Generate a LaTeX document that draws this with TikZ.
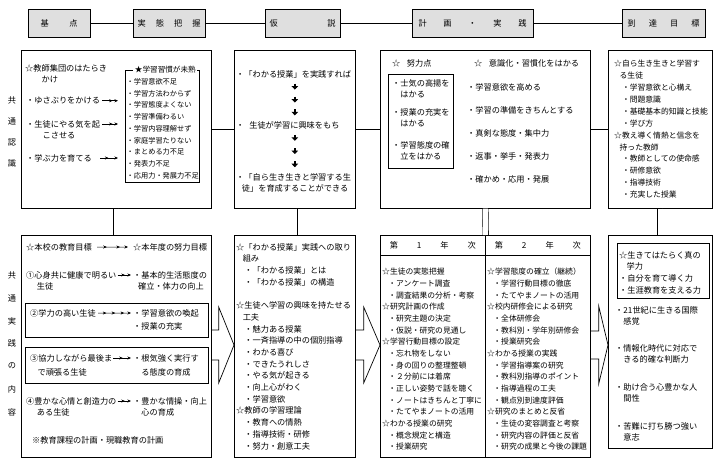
\documentclass[tikz,border=0pt]{standalone}
\usepackage{fontspec}
\setmainfont{Noto Sans CJK JP}
\usetikzlibrary{arrows.meta,calc,decorations.markings,positioning}

\begin{document}
\begin{tikzpicture}[
    x=1pt, y=-1pt,
    font=\fontsize{8.2}{11.7}\selectfont,
    head/.style={draw, line width=0.8pt, fill=gray!25, minimum height=28pt, inner sep=0pt},
    frame/.style={draw, line width=0.7pt, inner sep=0pt, anchor=north west},
    txt/.style={align=left, anchor=north west, inner sep=0pt},
    tag/.style={inner sep=0pt},
    link/.style={line width=0.7pt},
    pipe/.style={double, double distance=5pt, line width=0.6pt},
    outline/.style={line width=0.7pt, line join=miter},
    tip/.style={-{Stealth[length=3.5pt,width=3pt]}},
    dart/.style={line width=2pt, -{Triangle[length=3.5pt,width=6.5pt]}},
    arr2/.style={line width=0.5pt, tip, shorten <=2pt, shorten >=2pt, postaction={decorate},
        decoration={markings, mark=at position 0.5 with {\arrow{Stealth[length=3.5pt,width=3pt]}}}},
    arr3/.style={line width=0.5pt, tip, shorten <=2pt, shorten >=2pt, postaction={decorate},
        decoration={markings, mark=at position 0.36 with {\arrow{Stealth[length=3.5pt,width=3pt]}},
        mark=at position 0.68 with {\arrow{Stealth[length=3.5pt,width=3pt]}}}},
    arr4/.style={line width=0.5pt, tip, shorten <=2pt, shorten >=2pt, postaction={decorate},
        decoration={markings, mark=at position 0.28 with {\arrow{Stealth[length=3.5pt,width=3pt]}},
        mark=at position 0.52 with {\arrow{Stealth[length=3.5pt,width=3pt]}},
        mark=at position 0.76 with {\arrow{Stealth[length=3.5pt,width=3pt]}}}},
    downs/.style={postaction={decorate}, decoration={markings,
        mark=at position 0.2 with {\draw[dart] (-3pt,0) -- (3pt,0);},
        mark=at position 0.5 with {\draw[dart] (-3pt,0) -- (3pt,0);},
        mark=at position 0.8 with {\draw[dart] (-3pt,0) -- (3pt,0);}}},
]
\useasboundingbox (0,0) rectangle (717,466);

% Header row
\node[head, minimum width=62pt] (hBase) at (59,23) {\makebox[37pt]{基\hfill 点}};
\node[head, minimum width=72pt] (hFact) at (169,23) {\makebox[63pt]{実\hfill 態\hfill 把\hfill 握}};
\node[head, minimum width=75pt] (hHyp) at (302.5,23) {\makebox[66pt]{仮\hfill 説}};
\node[head, minimum width=121pt] (hPlan) at (472.5,23) {\makebox[108pt]{計\hfill 画\hfill ・\hfill 実\hfill 践}};
\node[head, minimum width=83pt] (hGoal) at (663.5,23) {\makebox[72pt]{到\hfill 達\hfill 目\hfill 標}};
\draw[link] (hBase) -- (hFact);
\draw[link] (hFact) -- (hHyp);
\draw[link] (hHyp) -- (hPlan);
\draw[link] (hPlan) -- (hGoal);

% Common understanding
\node[frame, minimum width=190pt, minimum height=158pt] (cogFrame) at (21,50) {};
\node[tag] (cog1) at (12,100) {共};
\node[tag] (cog2) at (12,121) {通};
\node[tag] (cog3) at (12,142) {認};
\node[tag] (cog4) at (12,163) {識};
\node[txt] (teach) at (25,64) {☆教師集団のはたらき\\\hspace*{2em}かけ};
\node[txt] (yusa) at (26,97) {・ゆさぶりをかける};
\node[txt] (yaruki) at (26,120) {・生徒にやる気を起\\\hspace*{2em}こさせる};
\node[txt] (manabu) at (26,154) {・学ぶ力を育てる};
\node[frame, minimum width=74pt, minimum height=112pt] (habit) at (125,70) {};
\node[fill=white, inner sep=1.5pt, font=\fontsize{7.6}{9}\selectfont] (habitTitle) at ([xshift=3pt]habit.north) {★学習習慣が未熟};
\node[txt, font=\fontsize{7.2}{11.75}\selectfont] (habitList) at (126.5,78) {・学習意欲不足\\・学習方法わからず\\・学習態度よくない\\・学習準備わるい\\・学習内容理解せず\\・家庭学習たりない\\・まとめる力不足\\・発表力不足\\・応用力・発展力不足};
\draw[arr2, shorten >=7pt] (yusa.east) -- (yusa.east -| habit.west);
\draw[arr2, shorten >=7pt] ($(yaruki.north east)+(0,4)$) -- ($(yaruki.north east -| habit.west)+(0,4)$);
\draw[arr2, shorten <=8pt, shorten >=7pt] (manabu.east) -- (manabu.east -| habit.west);

% Hypothesis
\node[frame, minimum width=121pt, minimum height=158pt] (hypFrame) at (234,50) {};
\node[txt] (hypA) at (236,70) {・「わかる授業」を実践すれば};
\node[txt] (hypB) at (236,121) {・\hspace*{0.6em}生徒が学習に興味をもち};
\node[txt] (hypC) at (236,173) {・「自ら生き生きと学習する生\\\hspace*{0.7em}徒」を育成することができる};
\path[downs] (hypA.south -| hypFrame.center) -- (hypB.north -| hypFrame.center);
\path[downs] (hypB.south -| hypFrame.center) -- (hypC.north -| hypFrame.center);

% Plan and practice
\node[frame, minimum width=210pt, minimum height=158pt] (planFrame) at (380,50) {};
\node[txt] (effortHead) at (392,59) {☆\hspace*{0.8em}努力点};
\node[txt] (habitHead) at (474,59) {☆\hspace*{0.8em}意識化・習慣化をはかる};
\node[frame, minimum width=65pt, minimum height=94pt] (effort) at (388,74) {};
\node[txt] (effort1) at (392,79) {・士気の高揚を\\\hspace*{1em}はかる};
\node[txt] (effort2) at (392,108) {・授業の充実を\\\hspace*{1em}はかる};
\node[txt] (effort3) at (392,141) {・学習態度の確\\\hspace*{1em}立をはかる};
\node[txt, font=\fontsize{8.2}{23}\selectfont] (habitList2) at (467,83) {・学習意欲を高める\\・学習の準備をきちんとする\\・真剣な態度・集中力\\・返事・挙手・発表力\\・確かめ・応用・発展};

% Goal
\node[frame, minimum width=104pt, minimum height=158pt] (goalFrame) at (608,50) {};
\node[txt, font=\fontsize{7.8}{11.9}\selectfont] (goalList) at (614,60) {☆自ら生き生きと学習す\\\hspace*{0.7em}る生徒\\\hspace*{1em}・学習意欲と心構え\\\hspace*{1em}・問題意識\\\hspace*{1em}・基礎基本的知識と技能\\\hspace*{1em}・学び方\\☆教え導く情熱と信念を\\\hspace*{0.7em}持った教師\\\hspace*{1em}・教師としての使命感\\\hspace*{1em}・研修意欲\\\hspace*{1em}・指導技術\\\hspace*{1em}・充実した授業};

\draw[link] (cogFrame) -- (hypFrame);
\draw[link] (hypFrame) -- (planFrame);
\draw[link] (planFrame) -- (goalFrame);

% Common practice
\node[frame, minimum width=190pt, minimum height=222pt] (pracFrame) at (21,235) {};
\node[tag] (prac1) at (12,275) {共};
\node[tag] (prac2) at (12,298) {通};
\node[tag] (prac3) at (12,321) {実};
\node[tag] (prac4) at (12,343) {践};
\node[tag] (prac5) at (12,366) {の};
\node[tag] (prac6) at (12,389) {内};
\node[tag] (prac7) at (12,412) {容};
\node[txt] (schoolGoal) at (26,243) {☆本校の教育目標};
\node[txt] (yearGoal) at (133,243) {☆本年度の努力目標};
\draw[arr3, shorten <=5pt, shorten >=5pt] (schoolGoal) -- (yearGoal);
\node[txt] (g1L) at (26,271) {①心身共に健康で明るい\\\hspace*{1.3em}生徒};
\node[txt] (g1R) at (133,271) {・基本的生活態度の\\\hspace*{0.6em}確立・体力の向上};
\draw[arr2, shorten <=1pt] ($(g1L.north east)+(0,4)$) -- ($(g1R.north west)+(0,4)$);
\node[frame, minimum width=183pt, minimum height=34pt] (box2) at (25,303) {};
\node[txt] (g2L) at (30,309) {②学力の高い生徒};
\node[txt] (g2R) at (133,309) {・学習意欲の喚起\\[2pt]・授業の充実};
\draw[arr4] (g2L.east) -- ($(g2R.north west)+(0,4)$);
\node[frame, minimum width=183pt, minimum height=36pt] (box3) at (25,347) {};
\node[txt] (g3L) at (30,354) {③協力しながら最後ま\\[3pt]\hspace*{0.9em}で頑張る生徒};
\node[txt] (g3R) at (133,354) {・根気強く実行す\\[3pt]\hspace*{1em}る態度の育成};
\draw[arr2, shorten <=1pt] ($(g3L.north east)+(0,4)$) -- ($(g3R.north west)+(0,4)$);
\node[txt] (g4L) at (26,397) {④豊かな心情と創造力の\\\hspace*{1.3em}ある生徒};
\node[txt] (g4R) at (133,397) {・豊かな情操・向上\\\hspace*{1em}心の育成};
\draw[arr2, shorten <=1pt] ($(g4L.north east)+(0,4)$) -- ($(g4R.north west)+(0,4)$);
\node[txt] (plan) at (32,436) {※教育課程の計画・現職教育の計画};

% Understood lessons
\node[frame, minimum width=121pt, minimum height=222pt] (hypPrac) at (234,235) {};
\node[txt] (wakaru) at (236,243) {☆「わかる授業」実践への取り\\\hspace*{0.8em}組み\\\hspace*{1em}・「わかる授業」とは\\\hspace*{1em}・「わかる授業」の構造\\[11.7pt]☆生徒へ学習の興味を持たせる\\\hspace*{0.8em}工夫\\\hspace*{1em}・魅力ある授業\\\hspace*{1em}・一斉指導の中の個別指導\\\hspace*{1em}・わかる喜び\\\hspace*{1em}・できたうれしさ\\\hspace*{1em}・やる気が起きる\\\hspace*{1em}・向上心がわく\\\hspace*{1em}・学習意欲\\☆教師の学習理論\\\hspace*{1em}・教育への情熱\\\hspace*{1em}・指導技術・研修\\\hspace*{1em}・努力・創意工夫};

% Yearly plan
\node[frame, minimum width=105pt, minimum height=20pt] (yr1) at (380,235) {\makebox[86pt]{第\hfill 1\hfill 年\hfill 次}};
\node[frame, minimum width=105pt, minimum height=20pt] (yr2) at (485,235) {\makebox[86pt]{第\hfill 2\hfill 年\hfill 次}};
\node[frame, minimum width=105pt, minimum height=202pt] (yr1body) at (380,255) {};
\node[frame, minimum width=105pt, minimum height=202pt] (yr2body) at (485,255) {};
\node[txt, font=\fontsize{7.8}{11.67}\selectfont] (year1) at (382,268) {☆生徒の実態把握\\\hspace*{0.8em}・アンケート調査\\\hspace*{0.8em}・調査結果の分析・考察\\☆研究計画の作成\\\hspace*{0.8em}・研究主題の決定\\\hspace*{0.8em}・仮説・研究の見通し\\☆学習行動目標の設定\\\hspace*{0.8em}・忘れ物をしない\\\hspace*{0.8em}・身の回りの整理整頓\\\hspace*{0.8em}・２分前には着席\\\hspace*{0.8em}・正しい姿勢で話を聴く\\\hspace*{0.8em}・ノートはきちんと丁寧に\\\hspace*{0.8em}・たてやまノートの活用\\☆わかる授業の研究\\\hspace*{0.8em}・概念規定と構造\\\hspace*{0.8em}・授業研究};
\node[txt, font=\fontsize{7.8}{11.67}\selectfont] (year2) at (487,268) {☆学習態度の確立（継続）\\\hspace*{0.8em}・学習行動目標の徹底\\\hspace*{0.8em}・たてやまノートの活用\\☆校内研修会による研究\\\hspace*{0.8em}・全体研修会\\\hspace*{0.8em}・教科別・学年別研修会\\\hspace*{0.8em}・授業研究会\\☆わかる授業の実践\\\hspace*{0.8em}・学習指導案の研究\\\hspace*{0.8em}・教科別指導のポイント\\\hspace*{0.8em}・指導過程の工夫\\\hspace*{0.8em}・観点別到達度評価\\☆研究のまとめと反省\\\hspace*{0.8em}・生徒の変容調査と考察\\\hspace*{0.8em}・研究内容の評価と反省\\\hspace*{0.8em}・研究の成果と今後の課題};

% Reached goal
\node[frame, minimum width=104pt, minimum height=213pt] (reach) at (608,235) {};
\node[frame, minimum width=92pt, minimum height=55pt] (reachIn) at (617,243) {};
\node[txt] (truePower) at (619,251) {☆生きてはたらく真の\\\hspace*{0.9em}学力\\・自分を育て導く力\\・生涯教育を支える力};
\node[txt] (intl) at (615,306) {・21世紀に生きる国際\\\hspace*{1em}感覚};
\node[txt] (info) at (615,344) {・情報化時代に対応で\\\hspace*{1em}きる的確な判断力};
\node[txt] (mutual) at (615,383) {・助け合う心豊かな人\\\hspace*{1em}間性};
\node[txt] (will) at (615,422) {・苦難に打ち勝つ強い\\\hspace*{1em}意志};

% Pipes between rows
\draw[pipe] (cogFrame.south) -- (pracFrame.north);
\draw[pipe] (hypFrame.south) -- (hypPrac.north);
\draw[pipe] (planFrame.south) -- (yr1.north east);
\draw[pipe] (goalFrame.south) -- (reach.north);

% Block arrows
\coordinate (flow) at (0,345);
\draw[outline] ($(flow -| pracFrame.east)+(0,-15)$) -- ++(7,0) -- ++(0,-23) -- (flow -| hypPrac.west)
    -- ($(flow -| pracFrame.east)+(7,38)$) -- ++(0,-23) -- ($(flow -| pracFrame.east)+(0,15)$);
\draw[outline] ($(flow -| hypPrac.east)+(0,-15)$) -- ++(8,0) -- ++(0,-23) -- (flow -| yr1body.west)
    -- ($(flow -| hypPrac.east)+(8,38)$) -- ++(0,-23) -- ($(flow -| hypPrac.east)+(0,15)$);
\draw[outline] ($(flow -| yr2body.east)+(0,-14)$) -- ++(8,0) -- ++(0,-25) -- (flow -| reach.west)
    -- ($(flow -| yr2body.east)+(8,39)$) -- ++(0,-25) -- ($(flow -| yr2body.east)+(0,14)$);

\end{tikzpicture}
\end{document}
